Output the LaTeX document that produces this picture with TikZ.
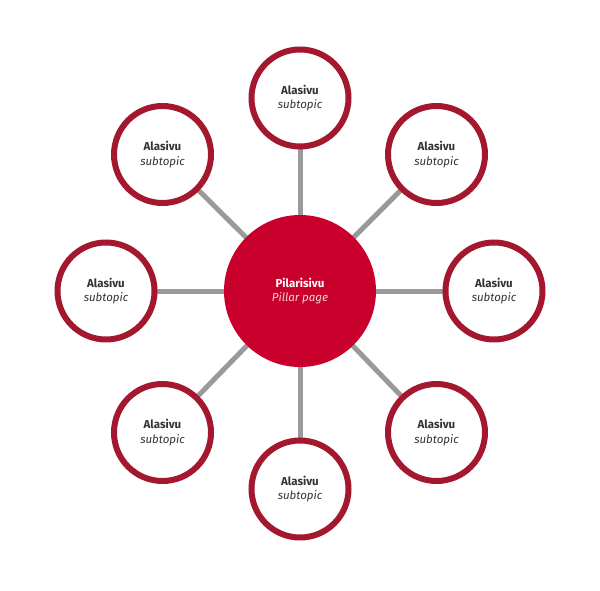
\documentclass[tikz,border=0pt]{standalone}
\usepackage{fontspec}
\setmainfont{Fira Sans}
\begin{document}
\begin{tikzpicture}[x=1pt,y=-1pt]
\definecolor{ringred}{HTML}{A3182F}
\definecolor{hubred}{HTML}{C8002B}
\definecolor{linkgray}{HTML}{9A9A9A}
\definecolor{txtgray}{HTML}{333333}
\definecolor{subpink}{HTML}{F6D5DC}
\tikzset{
  sub/.style={circle, draw=ringred, line width=6pt, fill=white, minimum size=97pt, inner sep=0pt,
    align=center, text=txtgray, font=\fontsize{11.5}{14.5}\selectfont},
  hub/.style={circle, fill=hubred, minimum size=152pt, inner sep=0pt, align=center, text=white,
    font=\fontsize{11.5}{14.5}\selectfont},
  link/.style={draw=linkgray, line width=5pt}
}
\useasboundingbox (0,0) rectangle (600,591);
\coordinate (c) at (300,291);
\coordinate (pt) at (300,98);
\coordinate (ptr) at (436.5,154.5);
\coordinate (pr) at (494,291);
\coordinate (pbr) at (436.5,432.5);
\coordinate (pb) at (300,489);
\coordinate (pbl) at (162.5,432.5);
\coordinate (pl) at (106,291);
\coordinate (ptl) at (162.5,154.5);
\foreach \n in {t,tr,r,br,b,bl,l,tl} {
  \draw[link] (c) -- (p\n);
}
\node[hub] (hub) at (c) {\textbf{Pilarisivu}\\\textcolor{subpink}{\textit{Pillar page}}};
\foreach \n in {t,tr,r,br,b,bl,l,tl} {
  \node[sub] (s\n) at (p\n) {\textbf{Alasivu}\\\textit{subtopic}};
}
\end{tikzpicture}
\end{document}
